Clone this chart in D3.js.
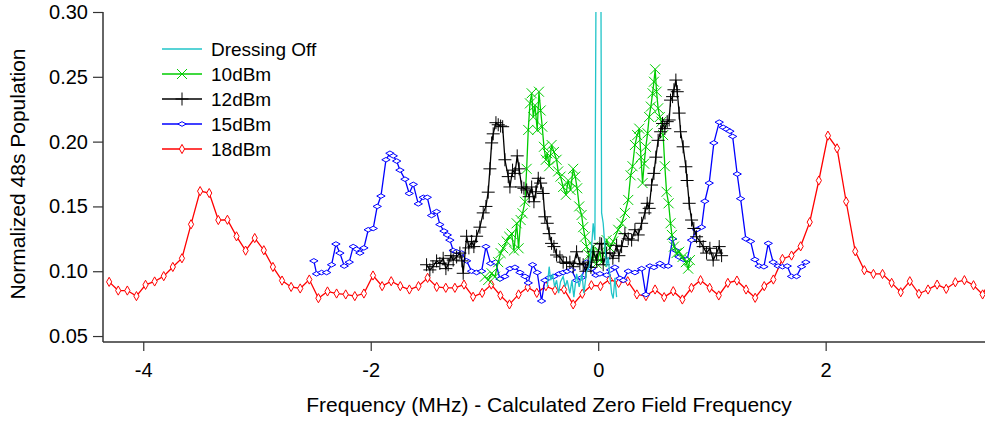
<!DOCTYPE html>
<html>
<head>
<meta charset="utf-8">
<script src="https://cdn.jsdelivr.net/npm/d3@7"></script>
<style>
    body { margin: 0; background: #fff; }
    text { font-family: "Liberation Sans", Arial, sans-serif; fill: #000; }
</style>
</head>
<body>
<svg id="chart" width="985" height="424"></svg>
<script>
// Data (x: MHz offset, y: normalized population)

const offX = [-0.448, -0.431, -0.418, -0.401, -0.383, -0.366, -0.348, -0.331, -0.308, -0.290,
    -0.273, -0.249, -0.231, -0.214, -0.190, -0.167, -0.143, -0.126, -0.102, -0.079,
    -0.058, -0.044, -0.029, -0.010, 0.018, 0.030, 0.044, 0.059, 0.074, 0.088,
    0.103, 0.118, 0.132, 0.147, 0.162];
const offY = [0.088, 0.1035, 0.093, 0.098, 0.088, 0.093, 0.083, 0.092, 0.096, 0.088,
    0.093, 0.083, 0.093, 0.080, 0.098, 0.088, 0.098, 0.083, 0.0996, 0.1035,
    0.119, 0.137, 0.124, 0.50, 0.50, 0.145, 0.137, 0.119, 0.1035, 0.111,
    0.096, 0.083, 0.079, 0.095, 0.080];

const dbm10X = [-0.996, -0.967, -0.937, -0.908, -0.879, -0.858, -0.835, -0.805, -0.782, -0.761,
    -0.741, -0.717, -0.700, -0.682, -0.665, -0.644, -0.629, -0.615, -0.600, -0.585,
    -0.571, -0.556, -0.536, -0.521, -0.506, -0.492, -0.477, -0.460, -0.448, -0.431,
    -0.410, -0.389, -0.366, -0.352, -0.331, -0.308, -0.284, -0.264, -0.243, -0.220,
    -0.202, -0.185, -0.167, -0.146, -0.132, -0.117, -0.102, -0.079, -0.058, -0.044,
    -0.014, 0.015, 0.030, 0.074, 0.103, 0.132, 0.176, 0.206, 0.235, 0.264,
    0.285, 0.302, 0.323, 0.343, 0.361, 0.376, 0.390, 0.404, 0.419, 0.434,
    0.448, 0.463, 0.478, 0.490, 0.501, 0.513, 0.527, 0.542, 0.557, 0.571,
    0.586, 0.601, 0.619, 0.636, 0.648, 0.666, 0.689, 0.712, 0.742, 0.771,
    0.791, 0.806];
const dbm10Y = [0.0958, 0.0932, 0.0984, 0.0958, 0.107, 0.114, 0.1177, 0.123, 0.1266, 0.129,
    0.116, 0.137, 0.1177, 0.1395, 0.1447, 0.1536, 0.179, 0.209, 0.2295, 0.2373,
    0.219, 0.228, 0.209, 0.2385, 0.224, 0.2115, 0.196, 0.186, 0.191, 0.181,
    0.1974, 0.192, 0.186, 0.177, 0.173, 0.165, 0.159, 0.170, 0.1627, 0.179,
    0.173, 0.164, 0.150, 0.1434, 0.134, 0.1266, 0.119, 0.1125, 0.1086, 0.119,
    0.106, 0.115, 0.107, 0.124, 0.118, 0.123, 0.132, 0.137, 0.145, 0.155,
    0.174, 0.181, 0.1974, 0.205, 0.210, 0.188, 0.168, 0.183, 0.196, 0.2064,
    0.219, 0.227, 0.2373, 0.2462, 0.2558, 0.2385, 0.2257, 0.219, 0.2154, 0.205,
    0.181, 0.1613, 0.1524, 0.137, 0.128, 0.119, 0.114, 0.115, 0.111, 0.107,
    0.102, 0.1086];

const dbm12X = [-1.509, -1.480, -1.453, -1.421, -1.392, -1.363, -1.339, -1.319, -1.295, -1.275,
    -1.245, -1.216, -1.198, -1.187, -1.157, -1.137, -1.113, -1.093, -1.069, -1.040,
    -1.011, -0.987, -0.967, -0.952, -0.937, -0.923, -0.899, -0.879, -0.858, -0.840,
    -0.820, -0.791, -0.776, -0.753, -0.732, -0.712, -0.695, -0.673, -0.653, -0.629,
    -0.607, -0.585, -0.565, -0.548, -0.527, -0.506, -0.484, -0.469, -0.448, -0.431,
    -0.410, -0.389, -0.366, -0.337, -0.308, -0.278, -0.249, -0.220, -0.190, -0.161,
    -0.132, -0.108, -0.088, -0.064, -0.044, -0.014, 0.015, 0.030, 0.044, 0.074,
    0.103, 0.129, 0.162, 0.182, 0.206, 0.235, 0.264, 0.294, 0.323, 0.352,
    0.382, 0.411, 0.431, 0.448, 0.469, 0.490, 0.507, 0.527, 0.549, 0.566,
    0.586, 0.607, 0.624, 0.636, 0.654, 0.666, 0.683, 0.695, 0.712, 0.724,
    0.747, 0.771, 0.782, 0.800, 0.821, 0.841, 0.865, 0.894, 0.923, 0.953,
    0.982, 1.011, 1.041, 1.064, 1.085];
const dbm12Y = [0.105, 0.101, 0.1035, 0.108, 0.106, 0.110, 0.102, 0.105, 0.112, 0.1086,
    0.111, 0.114, 0.108, 0.0984, 0.127, 0.118, 0.123, 0.119, 0.127, 0.134,
    0.145, 0.150, 0.161, 0.179, 0.199, 0.206, 0.2146, 0.213, 0.212, 0.2115,
    0.186, 0.173, 0.165, 0.178, 0.1755, 0.189, 0.179, 0.165, 0.164, 0.1627,
    0.1575, 0.165, 0.1536, 0.1613, 0.1717, 0.168, 0.160, 0.142, 0.137, 0.129,
    0.1215, 0.119, 0.1125, 0.111, 0.107, 0.106, 0.107, 0.1035, 0.115, 0.106,
    0.105, 0.100, 0.107, 0.103, 0.115, 0.1086, 0.1215, 0.121, 0.105, 0.114,
    0.114, 0.110, 0.120, 0.112, 0.119, 0.129, 0.125, 0.124, 0.132, 0.128,
    0.137, 0.145, 0.1524, 0.1485, 0.1665, 0.1755, 0.188, 0.201, 0.2076, 0.214,
    0.210, 0.2154, 0.2167, 0.232, 0.2347, 0.240, 0.2475, 0.2385, 0.222, 0.2076,
    0.196, 0.1806, 0.170, 0.1524, 0.1395, 0.133, 0.1266, 0.123, 0.119, 0.114,
    0.1177, 0.1086, 0.114, 0.119, 0.112];

const dbm15X = [-2.500, -2.476, -2.432, -2.388, -2.344, -2.306, -2.271, -2.233, -2.189, -2.154,
    -2.124, -2.095, -2.060, -2.022, -1.978, -1.943, -1.910, -1.866, -1.831, -1.802,
    -1.772, -1.743, -1.699, -1.662, -1.626, -1.582, -1.538, -1.503, -1.465, -1.421,
    -1.392, -1.356, -1.327, -1.304, -1.275, -1.245, -1.201, -1.157, -1.113, -1.069,
    -1.025, -0.987, -0.946, -0.902, -0.864, -0.820, -0.776, -0.732, -0.688, -0.644,
    -0.615, -0.577, -0.536, -0.498, -0.469, -0.431, -0.389, -0.343, -0.308, -0.273,
    -0.234, -0.190, -0.146, -0.102, -0.058, -0.020, 0.015, 0.074, 0.109, 0.147,
    0.191, 0.220, 0.264, 0.323, 0.382, 0.419, 0.455, 0.490, 0.542, 0.578,
    0.615, 0.654, 0.683, 0.712, 0.753, 0.782, 0.821, 0.865, 0.909, 0.938,
    0.976, 1.017, 1.064, 1.099, 1.129, 1.158, 1.182, 1.222, 1.252, 1.298,
    1.340, 1.378, 1.415, 1.457, 1.495, 1.538, 1.582, 1.621, 1.662, 1.700,
    1.744, 1.788, 1.826];
const dbm15Y = [0.108, 0.098, 0.099, 0.099, 0.105, 0.121, 0.114, 0.104, 0.107, 0.119,
    0.117, 0.114, 0.118, 0.132, 0.133, 0.150, 0.158, 0.186, 0.191, 0.189,
    0.185, 0.178, 0.171, 0.160, 0.167, 0.152, 0.157, 0.157, 0.143, 0.146,
    0.136, 0.131, 0.128, 0.124, 0.116, 0.115, 0.114, 0.108, 0.100, 0.099,
    0.100, 0.119, 0.106, 0.107, 0.094, 0.096, 0.102, 0.103, 0.099, 0.096,
    0.091, 0.105, 0.099, 0.077, 0.093, 0.095, 0.096, 0.098, 0.099, 0.100,
    0.101, 0.093, 0.095, 0.107, 0.102, 0.097, 0.098, 0.097, 0.101, 0.103,
    0.0945, 0.093, 0.100, 0.099, 0.102, 0.082, 0.104, 0.103, 0.106, 0.104,
    0.104, 0.125, 0.116, 0.111, 0.109, 0.109, 0.124, 0.132, 0.134, 0.154,
    0.168, 0.199, 0.215, 0.211, 0.2095, 0.208, 0.204, 0.175, 0.156, 0.125,
    0.123, 0.109, 0.104, 0.1035, 0.1215, 0.107, 0.104, 0.1035, 0.104, 0.096,
    0.096, 0.1035, 0.107];

const dbm18X = [-4.30, -4.22, -4.14, -4.06, -3.98, -3.90, -3.82, -3.74, -3.66, -3.58,
    -3.50, -3.42, -3.34, -3.26, -3.18, -3.10, -3.02, -2.94, -2.86, -2.78,
    -2.70, -2.62, -2.54, -2.46, -2.38, -2.30, -2.22, -2.14, -2.06, -1.98,
    -1.90, -1.82, -1.74, -1.66, -1.58, -1.50, -1.42, -1.34, -1.26, -1.18,
    -1.10, -1.02, -0.94, -0.86, -0.78, -0.70, -0.62, -0.54, -0.46, -0.38,
    -0.30, -0.22, -0.14, -0.06, 0.02, 0.10, 0.18, 0.26, 0.34, 0.42,
    0.50, 0.58, 0.66, 0.74, 0.82, 0.90, 0.98, 1.06, 1.14, 1.22,
    1.30, 1.38, 1.46, 1.54, 1.62, 1.70, 1.78, 1.86, 1.94, 2.02,
    2.10, 2.18, 2.26, 2.34, 2.42, 2.50, 2.58, 2.66, 2.74, 2.82,
    2.90, 2.98, 3.06, 3.14, 3.22, 3.30, 3.38, 3.46];
const dbm18Y = [0.0918, 0.0851, 0.0851, 0.0808, 0.0895, 0.0921, 0.0962, 0.1033, 0.110, 0.1362,
    0.1618, 0.1603, 0.1395, 0.1397, 0.1269, 0.1159, 0.1256, 0.1162, 0.1033, 0.0928,
    0.0879, 0.0867, 0.0936, 0.0792, 0.0844, 0.0828, 0.0821, 0.0808, 0.0828, 0.0967,
    0.0885, 0.0923, 0.0885, 0.0859, 0.0885, 0.0949, 0.0879, 0.0872, 0.0872, 0.0897,
    0.0803, 0.0833, 0.0897, 0.0813, 0.0744, 0.0821, 0.0877, 0.0833, 0.0885, 0.0854,
    0.0859, 0.0744, 0.0826, 0.0892, 0.0885, 0.0936, 0.0910, 0.0923, 0.0821, 0.0808,
    0.0859, 0.0800, 0.0846, 0.0782, 0.0872, 0.0931, 0.0872, 0.0813, 0.0910, 0.0928,
    0.0859, 0.0795, 0.0885, 0.0936, 0.1095, 0.1121, 0.1192, 0.1379, 0.1700, 0.2046,
    0.1948, 0.1538, 0.1154, 0.1008, 0.0979, 0.0979, 0.0910, 0.0838, 0.0923, 0.0826,
    0.0859, 0.0897, 0.0864, 0.0915, 0.0931, 0.0892, 0.0821, 0.0950];

const seriesNames = ['Dressing Off', '10dBm', '12dBm', '15dBm', '18dBm'];
const xTicks = [-4, -2, 0, 2];
const yTicks = [0.05, 0.10, 0.15, 0.20, 0.25, 0.30];

// Chart setup

const svg = d3.select('#chart');
const plotLeft = 103, plotRight = 985, plotTop = 12, plotBottom = 342;

const x = d3.scaleLinear().domain([-4.354, 3.401]).range([plotLeft, plotRight]);
const y = d3.scaleLinear().domain([0.0454, 0.30]).range([plotBottom, plotTop]);

// marker shapes
function diamond(w, h) { return `M0,${-h}L${w},0L0,${h}L${-w},0Z`; }
const markers = {
    none: null,
    cross: 'M-5,-5L5,5M-5,5L5,-5',
    plus: 'M-6.5,0L6.5,0M0,-6.5L0,6.5',
    diamondWide: diamond(4.2, 2.3),
    diamondTall: diamond(2.6, 4.6)
};

const series = [
    { name: '18dBm', xs: dbm18X, ys: dbm18Y, color: '#ff0000', marker: 'diamondTall', fill: '#fff' },
    { name: '15dBm', xs: dbm15X, ys: dbm15Y, color: '#0000ff', marker: 'diamondWide', fill: '#fff' },
    { name: '10dBm', xs: dbm10X, ys: dbm10Y, color: '#00cc00', marker: 'cross', fill: 'none' },
    { name: '12dBm', xs: dbm12X, ys: dbm12Y, color: '#000000', marker: 'plus', fill: 'none' },
    { name: 'Dressing Off', xs: offX, ys: offY, color: '#20c4c8', marker: 'none', fill: 'none' }
];

svg.append('defs').append('clipPath').attr('id', 'plotClip')
    .append('rect')
    .attr('x', plotLeft).attr('y', plotTop)
    .attr('width', plotRight - plotLeft).attr('height', plotBottom - plotTop);

const plot = svg.append('g').attr('clip-path', 'url(#plotClip)');

const line = d3.line()
    .x(function (d) { return x(d[0]); })
    .y(function (d) { return y(d[1]); });

series.forEach(s => {
    const pts = s.xs.map((v, i) => [v, s.ys[i]]);
    plot.append('path')
        .datum(pts)
        .attr('fill', 'none')
        .attr('stroke', s.color)
        .attr('stroke-width', 1.3)
        .attr('d', line);

    if (markers[s.marker]) {
        plot.selectAll('.m-' + s.marker)
            .data(pts)
            .enter()
            .append('path')
            .attr('class', 'm-' + s.marker)
            .attr('transform', function (d) { return 'translate(' + x(d[0]) + ',' + y(d[1]) + ')'; })
            .attr('d', markers[s.marker])
            .attr('fill', s.fill)
            .attr('stroke', s.color)
            .attr('stroke-width', 1);
    }
});

// Axes (plain hyphen for negatives, like the original)
const xAxis = svg.append('g')
    .attr('transform', 'translate(0,' + plotBottom + ')')
    .call(d3.axisBottom(x).tickValues(xTicks).tickSize(9).tickPadding(12)
        .tickFormat(function (d) { return String(d); }));

const yAxis = svg.append('g')
    .attr('transform', 'translate(' + plotLeft + ',0)')
    .call(d3.axisLeft(y).tickValues(yTicks).tickSize(10).tickPadding(5).tickFormat(d3.format('.2f')));

[xAxis, yAxis].forEach(ax => {
    ax.select('.domain').attr('stroke', '#333').attr('stroke-width', 1.5);
    ax.selectAll('.tick line').attr('stroke', '#333').attr('stroke-width', 1.2);
    ax.selectAll('.tick text')
        .attr('font-family', '"Liberation Sans", Arial, sans-serif')
        .attr('font-size', 20)
        .attr('fill', '#000');
});

// the D3 domain path has end caps; redraw clean lines
xAxis.select('.domain').attr('d', 'M' + plotLeft + ',0H' + plotRight);
yAxis.select('.domain').attr('d', 'M0,' + plotTop + 'V' + plotBottom);

// Axis titles
svg.append('text')
    .attr('x', (plotLeft + plotRight) / 2 + 5)
    .attr('y', 412)
    .attr('text-anchor', 'middle')
    .attr('font-size', 21)
    .text('Frequency (MHz) - Calculated Zero Field Frequency');

svg.append('text')
    .attr('transform', 'translate(25,174) rotate(-90)')
    .attr('text-anchor', 'middle')
    .attr('font-size', 21)
    .text('Normalized 48s Population');

// Legend
const legendOrder = seriesNames.map(n => series.find(s => s.name === n));
const legend = svg.append('g');

legendOrder.forEach((s, i) => {
    const ly = 49 + i * 25;
    legend.append('line')
        .attr('x1', 162).attr('x2', 202)
        .attr('y1', ly).attr('y2', ly)
        .attr('stroke', s.color)
        .attr('stroke-width', 1.3);
    if (markers[s.marker]) {
        legend.append('path')
            .attr('transform', 'translate(182,' + ly + ')')
            .attr('d', markers[s.marker])
            .attr('fill', s.fill)
            .attr('stroke', s.color)
            .attr('stroke-width', 1);
    }
    legend.append('text')
        .attr('x', 211)
        .attr('y', ly + 6.5)
        .attr('font-size', 19)
        .text(s.name);
});
</script>
</body>
</html>
